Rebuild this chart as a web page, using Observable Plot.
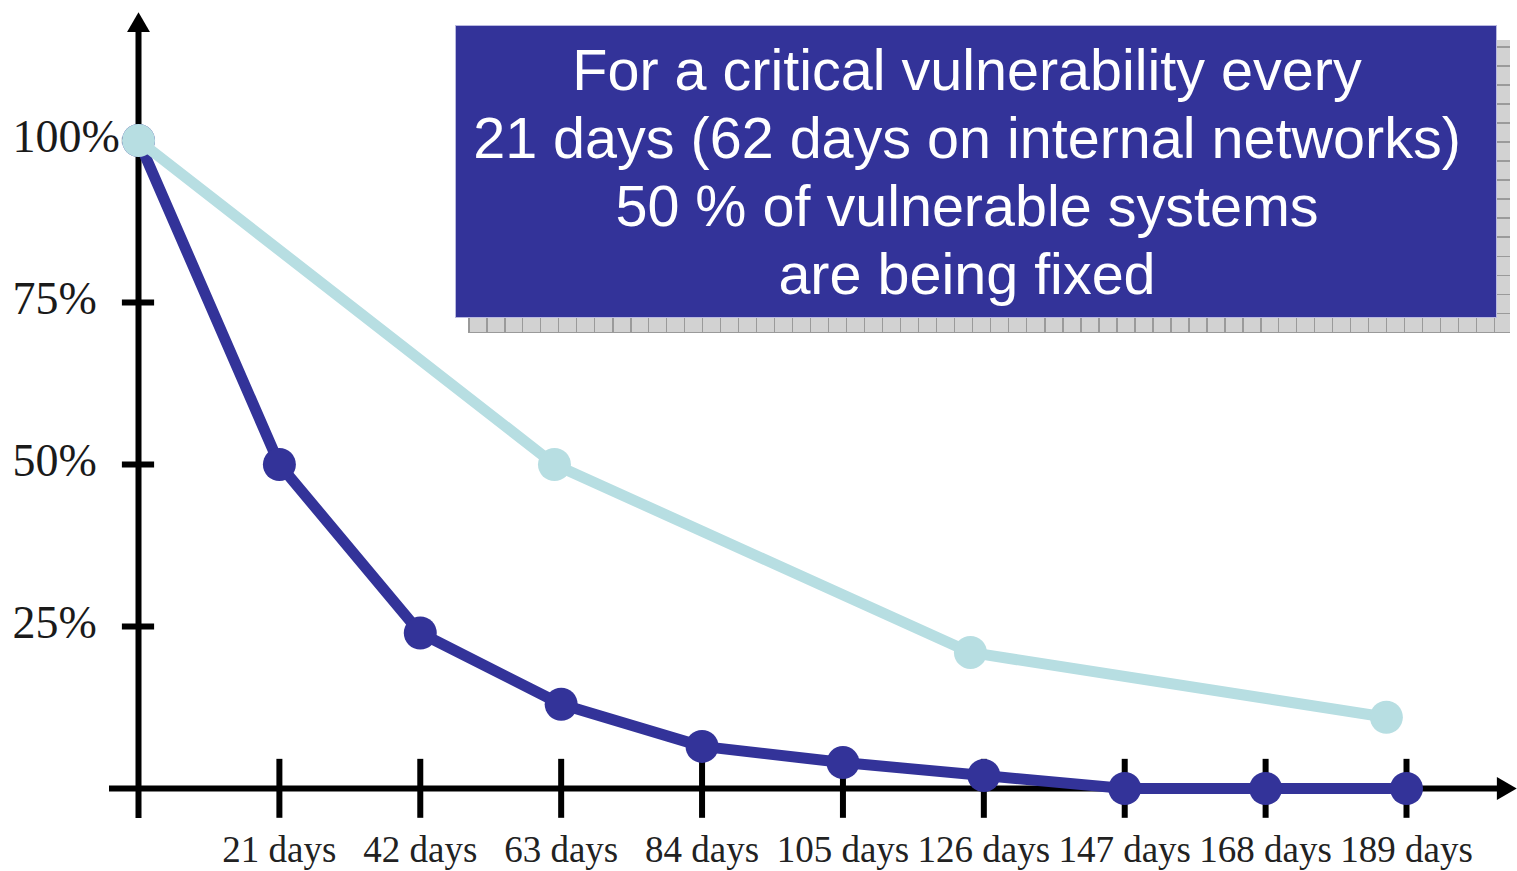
<!DOCTYPE html>
<html>
<head>
<meta charset="utf-8">
<script src="https://cdn.jsdelivr.net/npm/d3@7"></script>
<script src="https://cdn.jsdelivr.net/npm/@observablehq/plot@0.6"></script>
<style>
  body { margin: 0; background: #fff; }
  #wrap { position: relative; width: 1517px; height: 871px; overflow: hidden; }
  #shadow {
    position: absolute; left: 468px; top: 40px; width: 1042px; height: 293px;
    background-color: #d2d2d2;
    background-image:
      repeating-linear-gradient(90deg, #9a9a9a 0 1.5px, transparent 1.5px 18px),
      repeating-linear-gradient(0deg, #9a9a9a 0 1.5px, transparent 1.5px 19px);
  }
  #note {
    position: absolute; left: 455px; top: 25px; width: 1042px; height: 293px;
    box-sizing: border-box; padding: 10px 18px 0 0;
    background: #333399; border: 1px solid #b9b9e0;
    color: #fff; font-family: "Liberation Sans", Arial, sans-serif;
    font-size: 57.5px; line-height: 68px; text-align: center; white-space: nowrap;
  }
  #wrap svg { position: absolute; left: 0; top: 0; }
</style>
</head>
<body>
<div id="wrap"></div>
<script>
// ---- data ----
const darkDays = [0, 21, 42, 63, 84, 105, 126, 147, 168, 189];
const darkValues = [100, 50, 24, 13, 6.5, 4, 2, 0, 0, 0];
const lightDays = [0, 62, 124, 186];
const lightValues = [100, 50, 21, 11];
const xTicks = [21, 42, 63, 84, 105, 126, 147, 168, 189];
const xTickLabels = ["21 days", "42 days", "63 days", "84 days", "105 days", "126 days", "147 days", "168 days", "189 days"];
const yTicks = [25, 50, 75, 100];
const yTickLabels = ["25%", "50%", "75%", "100%"];
const noteLines = [
  "For a critical vulnerability every",
  "21 days (62 days on internal networks)",
  "50 % of vulnerable systems",
  "are being fixed"
];

const darkColor = "#333399";
const lightColor = "#b7dee2";
const serif = "'Liberation Serif', 'Times New Roman', serif";

const dark = darkDays.map((d, i) => ({day: d, value: darkValues[i]}));
const light = lightDays.map((d, i) => ({day: d, value: lightValues[i]}));

const chart = Plot.plot({
  width: 1517,
  height: 871,
  marginLeft: 138,
  marginRight: 111,
  marginTop: 140,
  marginBottom: 83,
  x: {domain: [0, 189], axis: null},
  y: {domain: [0, 100], axis: null},
  marks: [
    // axes lines
    Plot.ruleY([0], {stroke: "black", strokeWidth: 6, insetLeft: -29, insetRight: -94}),
    Plot.ruleX([0], {stroke: "black", strokeWidth: 6, insetTop: -118, insetBottom: -30}),
    Plot.dot([0], {x: 0, frameAnchor: "top", dy: -115, symbol: "triangle", r: 8.5, fill: "black", stroke: "none"}),
    Plot.dot([0], {y: 0, frameAnchor: "right", dx: 97, rotate: 90, symbol: "triangle", r: 8.5, fill: "black", stroke: "none"}),
    // ticks
    Plot.ruleX(xTicks, {x: d => d, y1: -4.6, y2: 4.5, stroke: "black", strokeWidth: 6}),
    Plot.ruleY(yTicks, {y: d => d, x1: -2.4, x2: 2.4, stroke: "black", strokeWidth: 6}),
    // tick labels
    Plot.text(xTicks, {x: d => d, text: (d, i) => xTickLabels[i], frameAnchor: "bottom", dy: 73,
      fontSize: 37, fontFamily: serif, fill: "#222"}),
    Plot.text(yTicks, {y: d => d, text: (d, i) => yTickLabels[i], frameAnchor: "left", dx: -126, dy: -3,
      textAnchor: "start", fontSize: 46, fontFamily: serif, fill: "#1a1a1a"}),
    // series
    Plot.line(dark, {x: "day", y: "value", stroke: darkColor, strokeWidth: 11}),
    Plot.dot(dark, {x: "day", y: "value", r: 16.5, fill: darkColor, stroke: "none"}),
    Plot.line(light, {x: "day", y: "value", stroke: lightColor, strokeWidth: 11}),
    Plot.dot(light, {x: "day", y: "value", r: 16.5, fill: lightColor, stroke: "none"})
  ]
});

const wrap = document.getElementById("wrap");
wrap.appendChild(chart);
const shadow = document.createElement("div");
shadow.id = "shadow";
wrap.appendChild(shadow);
const note = document.createElement("div");
note.id = "note";
noteLines.forEach(t => {
  const line = document.createElement("div");
  line.textContent = t;
  note.appendChild(line);
});
wrap.appendChild(note);
</script>
</body>
</html>
